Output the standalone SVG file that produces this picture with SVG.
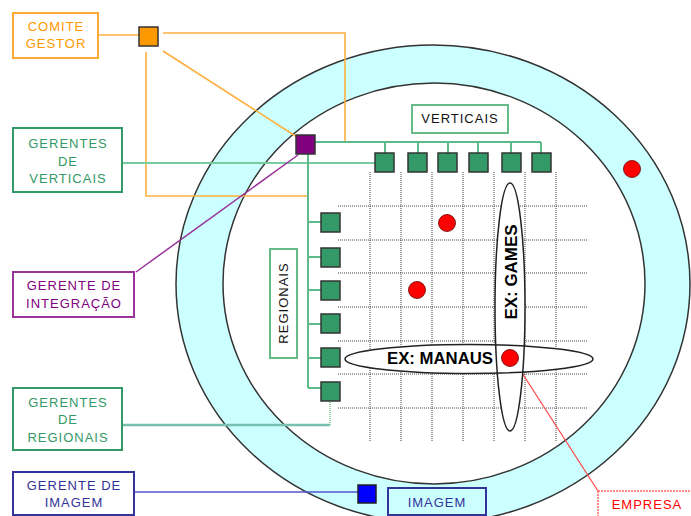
<svg xmlns="http://www.w3.org/2000/svg" width="691" height="516" viewBox="0 0 691 516">
<style>
text{font-family:"Liberation Sans",Arial,sans-serif}
.lbl{font-size:13px;letter-spacing:1px;text-anchor:middle}
.big{font-size:16px;font-weight:bold;text-anchor:middle;fill:#000}
.sqg{fill:#339966;stroke:#333;stroke-width:1.5}
.grid{stroke:#444;stroke-width:1;stroke-dasharray:1 1;fill:none}
.dot{fill:#FF0000;stroke:#660000;stroke-width:0.8}
.gl{stroke:#5DBB8A;stroke-width:2;fill:none}
.ol{stroke:#FFB040;stroke-width:1.6;fill:none}
</style>
<rect width="691" height="516" fill="#fff"/>
<!-- background rings -->
<ellipse cx="433" cy="284" rx="257" ry="239" fill="#CCFFFF" stroke="#333" stroke-width="1.5"/>
<ellipse cx="434" cy="283.5" rx="211" ry="200.5" fill="#fff" stroke="#333" stroke-width="1.5"/>
<!-- grid -->
<g id="grid" class="grid">
<path d="M370 172V442M401 172V442M432 172V442M463 172V442M494 172V442M525 172V442M556 172V442"/>
<path d="M338 206H587M338 240H587M338 273H587M338 307H587M338 341H587M338 374H587M338 408H587"/>
</g>
<!-- connectors -->
<g id="connectors">
<path class="ol" d="M98 35H139"/>
<path class="ol" d="M163 33H345V142"/>
<path class="ol" d="M163 51L297 137"/>
<path class="ol" d="M146 52V196H308"/>
<path class="gl" d="M315 142H541M385 142V153M418 142V153M448 142V153M478 142V153M511 142V153M541 142V153"/>
<path stroke="#77CCA0" stroke-width="2" fill="none" d="M122 163H375"/>
<path class="gl" d="M308 154V388M308 222H321M308 257H321M308 290H321M308 324H321M308 358H321M308 388H321"/>
<path stroke="#77C0B0" stroke-width="2.5" fill="none" d="M122 425H330"/>
<path stroke="#77CC88" stroke-width="1.5" stroke-dasharray="1 1" fill="none" d="M330 425V401"/>
<path stroke="#993399" stroke-width="1.5" fill="none" d="M298 155L136 272"/>
<path stroke="#5555CC" stroke-width="1.5" fill="none" d="M134 492H358"/>
<path stroke="#FF4444" stroke-width="1.2" fill="none" d="M515 362L598 491"/>
</g>
<!-- ellipses for examples -->
<g id="ex-manaus">
<ellipse cx="469" cy="359" rx="124" ry="14.5" fill="#fff"/>
</g>
<g id="ex-games">
<ellipse cx="510" cy="307" rx="15" ry="124" fill="#fff"/>
</g>
<ellipse cx="469" cy="359" rx="124" ry="14.5" fill="none" stroke="#222" stroke-width="1.5"/>
<ellipse cx="510" cy="307" rx="15" ry="124" fill="none" stroke="#222" stroke-width="1.5"/>
<text class="big" x="440" y="364" textLength="106" lengthAdjust="spacingAndGlyphs">EX: MANAUS</text>
<text class="big" transform="translate(517,272) rotate(-90)" textLength="95" lengthAdjust="spacingAndGlyphs">EX: GAMES</text>
<!-- nodes -->
<g id="comite-gestor">
<rect x="13" y="13" width="85" height="45" fill="#fff" stroke="#FFAA33" stroke-width="2"/>
<text class="lbl" x="56" y="31" fill="#FF9900">COMITE</text>
<text class="lbl" x="56" y="48" fill="#FF9900">GESTOR</text>
</g>
<g id="comite-square"><rect x="139" y="27" width="19" height="19" fill="#FF9900" stroke="#333" stroke-width="1.5"/></g>
<g id="gerentes-verticais">
<rect x="13" y="128" width="109" height="64" fill="#fff" stroke="#339966" stroke-width="2"/>
<text class="lbl" x="68" y="148" fill="#339966">GERENTES</text>
<text class="lbl" x="68" y="166" fill="#339966">DE</text>
<text class="lbl" x="68" y="183" fill="#339966">VERTICAIS</text>
</g>
<g id="gerente-integracao">
<rect x="13" y="272" width="121" height="45" fill="#fff" stroke="#993399" stroke-width="2"/>
<text class="lbl" x="74" y="290" fill="#800080">GERENTE DE</text>
<text class="lbl" x="74" y="308" fill="#800080">INTEGRAÇÃO</text>
</g>
<g id="integracao-square"><rect x="296" y="135" width="19" height="19" fill="#800080" stroke="#333" stroke-width="1.5"/></g>
<g id="gerentes-regionais">
<rect x="13" y="388" width="109" height="62" fill="#fff" stroke="#339966" stroke-width="2"/>
<text class="lbl" x="68" y="407" fill="#339966">GERENTES</text>
<text class="lbl" x="68" y="424" fill="#339966">DE</text>
<text class="lbl" x="68" y="442" fill="#339966">REGIONAIS</text>
</g>
<g id="gerente-imagem">
<rect x="13" y="472" width="121" height="43" fill="#fff" stroke="#333399" stroke-width="2"/>
<text class="lbl" x="74" y="490" fill="#333399">GERENTE DE</text>
<text class="lbl" x="74" y="507" fill="#333399">IMAGEM</text>
</g>
<g id="verticais">
<rect x="412" y="105" width="96" height="28" fill="#fff" stroke="#66BB88" stroke-width="2"/>
<text class="lbl" x="460" y="123" fill="#111">VERTICAIS</text>
</g>
<g id="regionais">
<rect x="270" y="249" width="27" height="109" fill="#fff" stroke="#66BB88" stroke-width="2"/>
<text class="lbl" transform="translate(288,303) rotate(-90)" fill="#111">REGIONAIS</text>
</g>
<g id="vertical-squares">
<rect class="sqg" x="375" y="153" width="19" height="19"/>
<rect class="sqg" x="408" y="153" width="19" height="19"/>
<rect class="sqg" x="438" y="153" width="19" height="19"/>
<rect class="sqg" x="469" y="153" width="19" height="19"/>
<rect class="sqg" x="502" y="153" width="19" height="19"/>
<rect class="sqg" x="532" y="153" width="19" height="19"/>
</g>
<g id="regional-squares">
<rect class="sqg" x="321" y="213" width="19" height="19"/>
<rect class="sqg" x="321" y="248" width="19" height="19"/>
<rect class="sqg" x="321" y="281" width="19" height="19"/>
<rect class="sqg" x="321" y="314" width="19" height="19"/>
<rect class="sqg" x="321" y="348" width="19" height="19"/>
<rect class="sqg" x="321" y="382" width="19" height="19"/>
</g>
<g id="imagem-square"><rect x="358" y="485" width="18" height="18" fill="#0000FF" stroke="#222" stroke-width="1.5"/></g>
<g id="imagem">
<rect x="388" y="488" width="98" height="27" fill="none" stroke="#333399" stroke-width="2"/>
<text class="lbl" x="437" y="507" fill="#333399">IMAGEM</text>
</g>
<g id="empresa">
<rect x="598" y="491" width="100" height="30" fill="#fff" stroke="#FF6666" stroke-width="1.5" stroke-dasharray="2 1"/>
<text class="lbl" x="647" y="509" fill="#FF0000">EMPRESA</text>
</g>
<g id="companies">
<circle class="dot" cx="632" cy="169" r="8.5"/>
<circle class="dot" cx="447" cy="223" r="8.5"/>
<circle class="dot" cx="417" cy="290" r="8.5"/>
<circle class="dot" cx="510" cy="358" r="8.5"/>
</g>
</svg>
